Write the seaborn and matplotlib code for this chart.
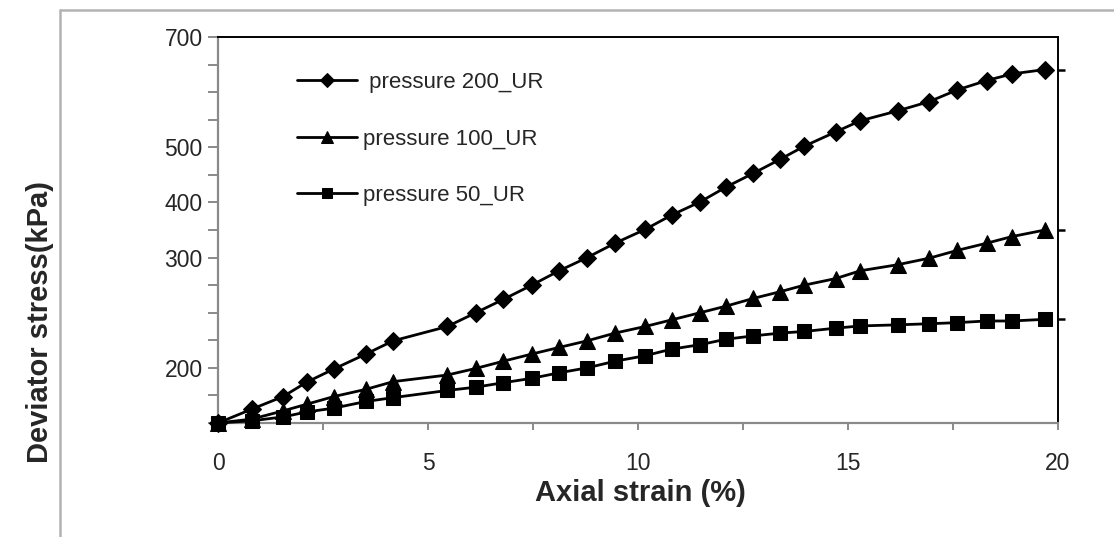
import numpy as np
import pandas as pd
import matplotlib.pyplot as plt
from matplotlib.lines import Line2D
import seaborn as sns

# values (axis runs 0..700 linearly)
strain = [0, 0.80, 1.55, 2.11, 2.76, 3.52, 4.17, 5.46, 6.14, 6.79, 7.47, 8.12,
          8.79, 9.45, 10.17, 10.80, 11.48, 12.10, 12.75, 13.38, 13.96, 14.71,
          15.29, 16.18, 16.94, 17.60, 18.30, 18.90, 19.69]
stress_200 = [0, 25, 48, 74, 98, 125, 149, 175, 200, 224, 250, 276, 300, 326,
              351, 377, 401, 428, 453, 478, 502, 528, 548, 566, 583, 604, 621,
              633, 641]
stress_100 = [0, 7, 22, 34, 48, 61, 75, 87, 99, 112, 125, 137, 149, 163, 175,
              187, 200, 212, 226, 238, 250, 262, 276, 287, 299, 313, 326, 338,
              350]
stress_50 = [0, 4, 11, 20, 27, 39, 46, 59, 65, 73, 81, 91, 100, 112, 122, 134,
             142, 152, 158, 163, 166, 172, 176, 178, 180, 182, 185, 185, 188]

series_names = [" pressure 200_UR", "pressure 100_UR", "pressure 50_UR"]
series_markers = ["D", "^", "s"]
marker_sizes = [9.5, 11, 9.5]

x_ticks = [0, 2.5, 5, 7.5, 10, 12.5, 15, 17.5, 20]
x_tick_labels = ["0", "", "5", "", "10", "", "15", "", "20"]
y_ticks = [0, 50, 100, 150, 200, 250, 300, 350, 400, 450, 500, 550, 600, 650, 700]
y_tick_labels = ["", "", "200", "", "", "", "300", "", "400", "", "500", "", "", "", "700"]

sns.set_theme(style="white")
plt.rcParams["font.family"] = ["Liberation Sans", "DejaVu Sans"]

fig = plt.figure(figsize=(11.14, 5.37), dpi=100)
ax = fig.add_axes([0.1957, 0.2123, 0.754, 0.7188])

frames = []
for name, vals in zip(series_names, [stress_200, stress_100, stress_50]):
    frames.append(pd.DataFrame({"strain": strain, "stress": vals, "series": name}))
df = pd.concat(frames, ignore_index=True)

for name, mk, ms in zip(series_names, series_markers, marker_sizes):
    sub = df[df["series"] == name]
    sns.lineplot(data=sub, x="strain", y="stress", ax=ax, color="black",
                 marker=mk, markersize=ms, markeredgecolor="black",
                 linewidth=2.0, label=name, clip_on=False, zorder=3)

ax.set_xlim(0, 20)
ax.set_ylim(0, 700)
ax.set_xticks(x_ticks)
ax.set_xticklabels(x_tick_labels)
ax.set_yticks(y_ticks)
ax.set_yticklabels(y_tick_labels)
ax.set_xlabel("")
ax.set_ylabel("")

ax.tick_params(axis="y", direction="out", length=7, width=1.4, color="#8a8a8a",
               labelsize=16.5, pad=4, left=True)
ax.tick_params(axis="x", direction="out", length=5, width=1.4, color="#8a8a8a",
               labelsize=16.5, pad=16, bottom=True)
for side in ["left", "bottom"]:
    ax.spines[side].set_color("#8a8a8a")
    ax.spines[side].set_linewidth(1.6)
for side in ["top", "right"]:
    ax.spines[side].set_color("black")
    ax.spines[side].set_linewidth(1.4)

# short stubs on the right axis at the end values
ax2 = ax.twinx()
ax2.set_ylim(0, 700)
ax2.set_yticks([stress_200[-1], stress_100[-1], stress_50[-1]])
ax2.set_yticklabels([])
ax2.tick_params(axis="y", direction="out", length=5, width=1.8, color="black", right=True)
for sp in ax2.spines.values():
    sp.set_visible(False)

leg = ax.legend(loc="upper left", bbox_to_anchor=(0.2666, 0.866),
                bbox_transform=fig.transFigure, frameon=False, fontsize=16,
                handlelength=2.7, handletextpad=0.25, labelspacing=1.6,
                markerscale=0.8, borderpad=0, borderaxespad=0)

fig.text(0.036, 0.40, "Deviator stress(kPa)", rotation=90, ha="center", va="center",
         fontsize=21, fontweight="bold")
fig.text(0.575, 0.082, "Axial strain (%)", ha="center", va="center",
         fontsize=21, fontweight="bold")

# outer chart frame
fig.add_artist(Line2D([60 / 1114, 1.0], [1 - 10 / 537, 1 - 10 / 537],
                      transform=fig.transFigure, color="#b3b3b3", linewidth=1.8))
fig.add_artist(Line2D([60 / 1114, 60 / 1114], [0.0, 1 - 10 / 537],
                      transform=fig.transFigure, color="#b3b3b3", linewidth=1.8))

fig.savefig("out.png", dpi=100)
